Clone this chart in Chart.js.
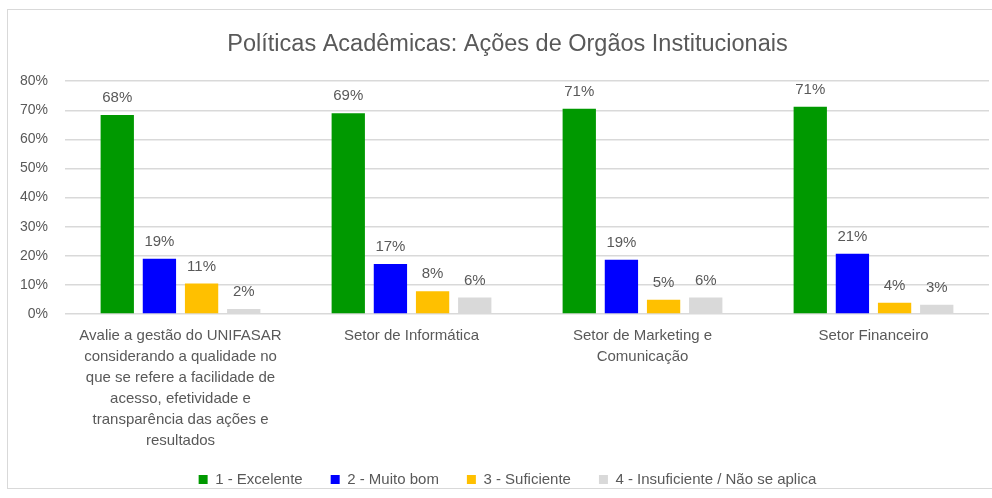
<!DOCTYPE html>
<html lang="pt-BR">
<head>
<meta charset="utf-8">
<title>Políticas Acadêmicas</title>
<script src="https://cdn.jsdelivr.net/npm/chart.js@4.4.1/dist/chart.umd.min.js"></script>
<style>
  html, body { margin: 0; padding: 0; background: #fff; overflow: hidden; }
  #frame {
    position: absolute; left: 7px; top: 9px;
    width: 1000px; height: 480px;
    border: 1px solid #d9d9d9; box-sizing: border-box;
  }
  #wrap { position: absolute; left: 0; top: 1px; width: 985px; height: 486px; }
</style>
</head>
<body>
<div id="frame"><div id="wrap"><canvas id="chart"></canvas></div></div>
<script>
'use strict';

/* Dados */
const categorias = [
  ['Avalie a gestão do UNIFASAR', 'considerando a qualidade no', 'que se refere a facilidade de',
   'acesso, efetividade e', 'transparência das ações e', 'resultados'],
  'Setor de Informática',
  ['Setor de Marketing e', 'Comunicação'],
  'Setor Financeiro',
];
const seriesNomes = ['1 - Excelente', '2 - Muito bom', '3 - Suficiente', '4 - Insuficiente / Não se aplica'];
const excelente   = [68.4, 69.0, 70.5, 71.2];
const muitoBom    = [19.0, 17.2, 18.6, 20.7];
const suficiente  = [10.5, 7.8, 4.9, 3.9];
const insuficiente = [1.7, 5.7, 5.7, 3.2];
const yTicks = [0, 10, 20, 30, 40, 50, 60, 70, 80];

const CORES = ['#009900', '#0000ff', '#ffc000', '#d9d9d9'];
const FONTE = "'Liberation Sans', Arial, sans-serif";
const CINZA = '#595959';

/* Rótulos de valor acima das barras */
const rotulos = {
  id: 'rotulos',
  afterDatasetsDraw(chart) {
    const ctx = chart.ctx;
    ctx.save();
    ctx.font = `15px ${FONTE}`;
    ctx.fillStyle = CINZA;
    ctx.textAlign = 'center';
    ctx.textBaseline = 'middle';
    chart.data.datasets.forEach((ds, i) => {
      chart.getDatasetMeta(i).data.forEach((bar, j) => {
        ctx.fillText(Math.round(ds.data[j]) + '%', bar.x, bar.y - 17);
      });
    });
    ctx.restore();
  },
};

const dados = [excelente, muitoBom, suficiente, insuficiente];

new Chart(document.getElementById('chart'), {
  type: 'bar',
  data: {
    labels: categorias,
    datasets: dados.map((d, i) => ({
      label: seriesNomes[i],
      data: d,
      backgroundColor: CORES[i],
      categoryPercentage: 0.73,
      barPercentage: 0.79,
    })),
  },
  options: {
    responsive: true,
    maintainAspectRatio: false,
    animation: false,
    layout: { padding: { left: 18, right: 4, top: 0, bottom: 0 } },
    plugins: {
      title: {
        display: true,
        text: 'Políticas Acadêmicas: Ações de Orgãos Institucionais',
        color: CINZA,
        font: { family: FONTE, size: 23.5, weight: 'normal' },
        padding: { top: 19, bottom: 23 },
      },
      legend: {
        display: true,
        position: 'bottom',
        labels: {
          boxWidth: 9, boxHeight: 9,
          color: CINZA,
          font: { family: FONTE, size: 15 },
          padding: 28,
        },
      },
      tooltip: { enabled: false },
    },
    scales: {
      x: {
        grid: { display: false, drawTicks: false },
        border: { display: false },
        ticks: {
          color: CINZA,
          font: { family: FONTE, size: 15, lineHeight: 1.4 },
          padding: 11,
          maxRotation: 0,
          autoSkip: false,
        },
        afterFit: s => {
          s.height = 130;
          /* deixa a última linha do rótulo longo sem corte */
          s._computeLabelArea = () => null;
        },
      },
      y: {
        min: 0, max: 80,
        afterBuildTicks: s => { s.ticks = yTicks.map(v => ({ value: v })); },
        grid: { color: '#d9d9d9', lineWidth: 1.5, drawTicks: false },
        border: { display: false },
        ticks: {
          color: CINZA,
          font: { family: FONTE, size: 14 },
          padding: 17,
          callback: v => v + '%',
        },
        afterFit: s => {
          s.width = 39;
          s._computeLabelArea = () => null;
        },
      },
    },
  },
  plugins: [rotulos],
});
</script>
</body>
</html>
